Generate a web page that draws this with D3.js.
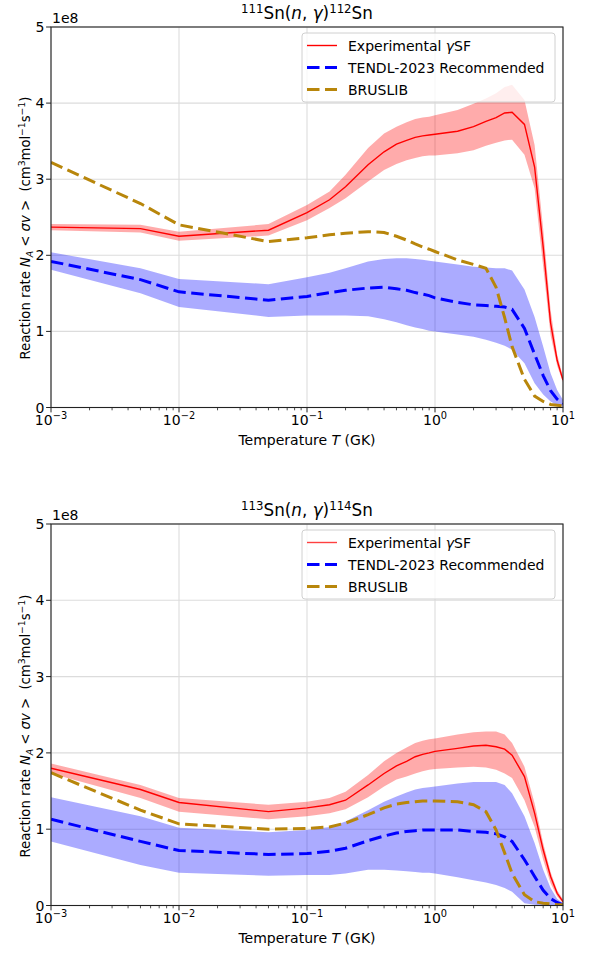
<!DOCTYPE html>
<html>
<head>
<meta charset="utf-8">
<script src="https://cdn.jsdelivr.net/npm/d3@7"></script>
<style>
  html, body { margin: 0; padding: 0; background: #fff; }
  svg { display: block; font-family: "DejaVu Sans", sans-serif; }
</style>
</head>
<body>
<svg id="chart" width="590" height="954"></svg>
<script>
// Temperature grid (GK)
const temps = [0.001, 0.005, 0.01, 0.05, 0.1, 0.15, 0.2, 0.3, 0.4, 0.5, 0.6, 0.7, 0.8, 0.9,
               1, 1.5, 2, 2.5, 3, 3.5, 4, 5, 6, 7, 8, 9, 10];

// 111Sn(n,γ)112Sn rates, units of 1e8 cm^3 mol^-1 s^-1
const exp111   = [2.37, 2.35, 2.25, 2.33, 2.56, 2.73, 2.90, 3.19, 3.36, 3.46, 3.51, 3.55, 3.57, 3.58,
                  3.59, 3.63, 3.69, 3.76, 3.81, 3.87, 3.88, 3.72, 3.16, 2.11, 1.11, 0.62, 0.36];
const exp111Lo = [2.33, 2.30, 2.19, 2.26, 2.46, 2.62, 2.75, 2.97, 3.12, 3.20, 3.25, 3.28, 3.30, 3.31,
                  3.31, 3.34, 3.38, 3.44, 3.48, 3.51, 3.52, 3.32, 2.88, 1.85, 0.95, 0.55, 0.33];
const exp111Hi = [2.41, 2.40, 2.31, 2.41, 2.66, 2.84, 3.06, 3.41, 3.60, 3.69, 3.75, 3.79, 3.81, 3.82,
                  3.84, 3.91, 3.99, 4.06, 4.13, 4.21, 4.24, 4.04, 3.45, 2.35, 1.28, 0.70, 0.40];
const tendl111   = [1.92, 1.68, 1.52, 1.41, 1.46, 1.51, 1.54, 1.57, 1.58, 1.56, 1.54, 1.51, 1.49, 1.47,
                    1.44, 1.38, 1.35, 1.34, 1.33, 1.32, 1.29, 1.04, 0.70, 0.42, 0.22, 0.11, 0.05];
const tendl111Lo = [1.81, 1.50, 1.32, 1.19, 1.21, 1.21, 1.21, 1.20, 1.16, 1.12, 1.08, 1.05, 1.03, 1.01,
                    1.00, 0.96, 0.93, 0.89, 0.85, 0.81, 0.76, 0.58, 0.32, 0.17, 0.08, 0.03, 0.01];
const tendl111Hi = [2.04, 1.83, 1.69, 1.62, 1.71, 1.77, 1.83, 1.92, 1.95, 1.96, 1.96, 1.95, 1.94, 1.93,
                    1.92, 1.88, 1.85, 1.84, 1.83, 1.83, 1.80, 1.55, 1.19, 0.80, 0.45, 0.23, 0.10];
const brus111 = [3.22, 2.68, 2.40, 2.18, 2.23, 2.27, 2.29, 2.31, 2.30, 2.25, 2.20, 2.15, 2.11, 2.08,
                 2.05, 1.94, 1.88, 1.83, 1.58, 1.18, 0.80, 0.37, 0.15, 0.08, 0.04, 0.03, 0.02];

// 113Sn(n,γ)114Sn rates, units of 1e8 cm^3 mol^-1 s^-1
const exp113   = [1.80, 1.52, 1.35, 1.23, 1.28, 1.32, 1.38, 1.58, 1.73, 1.83, 1.89, 1.95, 1.98, 2.00,
                  2.02, 2.06, 2.09, 2.10, 2.08, 2.05, 1.97, 1.69, 1.21, 0.73, 0.38, 0.16, 0.05];
const exp113Lo = [1.73, 1.41, 1.23, 1.13, 1.17, 1.21, 1.26, 1.42, 1.56, 1.65, 1.69, 1.73, 1.76, 1.78,
                  1.79, 1.81, 1.82, 1.81, 1.78, 1.73, 1.67, 1.38, 1.03, 0.60, 0.29, 0.12, 0.03];
const exp113Hi = [1.86, 1.58, 1.41, 1.32, 1.36, 1.41, 1.49, 1.71, 1.89, 2.00, 2.07, 2.13, 2.16, 2.18,
                  2.19, 2.24, 2.27, 2.28, 2.28, 2.24, 2.13, 1.82, 1.34, 0.82, 0.44, 0.20, 0.08];
const tendl113   = [1.13, 0.84, 0.72, 0.67, 0.68, 0.71, 0.75, 0.85, 0.91, 0.95, 0.97, 0.98, 0.99, 0.99,
                    0.99, 0.99, 0.97, 0.96, 0.94, 0.90, 0.84, 0.60, 0.38, 0.20, 0.09, 0.04, 0.01];
const tendl113Lo = [0.84, 0.53, 0.43, 0.39, 0.40, 0.40, 0.42, 0.47, 0.47, 0.46, 0.45, 0.44, 0.43, 0.43,
                    0.42, 0.37, 0.33, 0.30, 0.27, 0.23, 0.18, 0.03, 0.01, 0.00, 0.00, 0.00, 0.00];
const tendl113Hi = [1.42, 1.17, 1.02, 0.96, 0.99, 1.03, 1.10, 1.25, 1.36, 1.43, 1.48, 1.52, 1.54, 1.55,
                    1.56, 1.60, 1.62, 1.62, 1.62, 1.58, 1.47, 1.17, 0.82, 0.47, 0.23, 0.09, 0.03];
const brus113 = [1.74, 1.25, 1.07, 1.00, 1.01, 1.03, 1.08, 1.19, 1.28, 1.33, 1.35, 1.36, 1.37, 1.37,
                 1.37, 1.36, 1.32, 1.23, 0.99, 0.69, 0.42, 0.14, 0.05, 0.03, 0.02, 0.01, 0.01];

const yTicks = [0, 1, 2, 3, 4, 5];
const xTicks = [1e-3, 1e-2, 1e-1, 1e0, 1e1];
const xTickExps = ["\u22123", "\u22122", "\u22121", "0", "1"];
const legendLabels = ["Experimental", "TENDL-2023 Recommended", "BRUSLIB"];

const svg = d3.select("#chart");
const FS = 14;

function drawPanel(cfg) {
  const left = 51, right = 563;
  const top = cfg.top, bottom = cfg.bottom;
  const x = d3.scaleLog().domain([1e-3, 10]).range([left, right]);
  const y = d3.scaleLinear().domain([0, 5]).range([bottom, top]);
  const g = svg.append("g");

  const clipId = "clip" + cfg.id;
  g.append("clipPath").attr("id", clipId)
    .append("rect").attr("x", left).attr("y", top).attr("width", right - left).attr("height", bottom - top);

  // grid
  const grid = g.append("g").attr("stroke", "#dcdcdc").attr("stroke-width", 1.1);
  yTicks.forEach(v => grid.append("line").attr("x1", left).attr("x2", right).attr("y1", y(v)).attr("y2", y(v)));
  xTicks.forEach(v => grid.append("line").attr("x1", x(v)).attr("x2", x(v)).attr("y1", top).attr("y2", bottom));

  const data = temps.map((t, i) => ({t, e: cfg.exp[i], eLo: cfg.expLo[i], eHi: cfg.expHi[i],
    d: cfg.tendl[i], dLo: cfg.tendlLo[i], dHi: cfg.tendlHi[i], b: cfg.brus[i]}));

  const plot = g.append("g").attr("clip-path", `url(#${clipId})`);

  const area = (lo, hi) => d3.area().x(d => x(d.t)).y0(d => y(d[lo])).y1(d => y(d[hi]));
  const line = key => d3.line().x(d => x(d.t)).y(d => y(d[key]));

  plot.append("path").attr("d", area("eLo", "eHi")(data))
    .attr("fill", "#ff0000").attr("fill-opacity", 0.33).attr("stroke", "none");
  plot.append("path").attr("d", line("e")(data))
    .attr("fill", "none").attr("stroke", "#ff0000").attr("stroke-width", 1.4);
  plot.append("path").attr("d", area("dLo", "dHi")(data))
    .attr("fill", "#0000ff").attr("fill-opacity", 0.33).attr("stroke", "none");
  plot.append("path").attr("d", line("d")(data))
    .attr("fill", "none").attr("stroke", "#0000ff").attr("stroke-width", 3)
    .attr("stroke-dasharray", "12.5,5.5");
  plot.append("path").attr("d", line("b")(data))
    .attr("fill", "none").attr("stroke", "#b8860b").attr("stroke-width", 3)
    .attr("stroke-dasharray", "12.5,5.5");

  // x ticks (major + minor, outward)
  const ticks = g.append("g").attr("stroke", "#222").attr("stroke-width", 1);
  for (let p = -3; p <= 1; p++) {
    ticks.append("line").attr("x1", x(Math.pow(10, p))).attr("x2", x(Math.pow(10, p)))
      .attr("y1", bottom).attr("y2", bottom + 4.9);
    if (p < 1) {
      for (let m = 2; m <= 9; m++) {
        const v = m * Math.pow(10, p);
        ticks.append("line").attr("x1", x(v)).attr("x2", x(v))
          .attr("y1", bottom).attr("y2", bottom + 2.8).attr("stroke-width", 0.8);
      }
    }
  }
  // y ticks
  yTicks.forEach(v => ticks.append("line").attr("x1", left - 4.9).attr("x2", left)
    .attr("y1", y(v)).attr("y2", y(v)));

  // x tick labels
  xTicks.forEach((v, i) => {
    const t = g.append("text").attr("x", x(v)).attr("y", bottom + 17.5)
      .attr("text-anchor", "middle").attr("font-size", FS).attr("fill", "#000");
    t.append("tspan").text("10");
    t.append("tspan").attr("font-size", FS * 0.7).attr("dy", -6).text(xTickExps[i]);
  });
  // y tick labels
  yTicks.forEach(v => g.append("text").attr("x", left - 6.5).attr("y", y(v)).attr("dy", "0.36em")
    .attr("text-anchor", "end").attr("font-size", FS).attr("fill", "#000").text(v));

  // offset text
  g.append("text").attr("x", left + 1).attr("y", top - 4.5).attr("font-size", FS).attr("fill", "#000").text("1e8");

  // spines
  g.append("rect").attr("x", left).attr("y", top).attr("width", right - left).attr("height", bottom - top)
    .attr("fill", "none").attr("stroke", "#222").attr("stroke-width", 1.1);

  // title
  const title = g.append("text").attr("x", (left + right) / 2).attr("y", top - 8)
    .attr("text-anchor", "middle").attr("font-size", FS * 1.2).attr("fill", "#000");
  title.append("tspan").attr("font-size", FS * 0.84).attr("dy", -6).text(cfg.target);
  title.append("tspan").attr("dy", 6).text("Sn(");
  title.append("tspan").attr("font-style", "italic").text("n");
  title.append("tspan").text(", ");
  title.append("tspan").attr("font-style", "italic").text("\u03b3");
  title.append("tspan").text(")");
  title.append("tspan").attr("font-size", FS * 0.84).attr("dy", -6).text(cfg.product);
  title.append("tspan").attr("dy", 6).text("Sn");

  // x label
  const xl = g.append("text").attr("x", (left + right) / 2).attr("y", bottom + 37)
    .attr("text-anchor", "middle").attr("font-size", FS).attr("fill", "#000");
  xl.append("tspan").text("Temperature ");
  xl.append("tspan").attr("font-style", "italic").text("T");
  xl.append("tspan").text(" (GK)");

  // y label: starts near the lower end of the plot and runs upward
  const LFS = 13.2;
  const yl = g.append("text").attr("transform", `translate(30,${bottom - 48}) rotate(-90)`)
    .attr("text-anchor", "start").attr("font-size", LFS).attr("fill", "#000")
    .attr("xml:space", "preserve");
  yl.append("tspan").text("Reaction rate ");
  yl.append("tspan").attr("font-style", "italic").text("N");
  yl.append("tspan").attr("font-style", "italic").attr("font-size", LFS * 0.7).attr("dy", 3).text("A");
  yl.append("tspan").attr("dy", -3).text(" < ");
  yl.append("tspan").attr("font-style", "italic").text("\u03c3v");
  yl.append("tspan").text(" >  (cm");
  yl.append("tspan").attr("font-size", LFS * 0.7).attr("dy", -5).text("3");
  yl.append("tspan").attr("dy", 5).text("mol");
  yl.append("tspan").attr("font-size", LFS * 0.7).attr("dy", -5).text("\u22121");
  yl.append("tspan").attr("dy", 5).text("s");
  yl.append("tspan").attr("font-size", LFS * 0.7).attr("dy", -5).text("\u22121");
  yl.append("tspan").attr("dy", 5).text(")");
  // fit the label to the height of its column
  const natural = yl.node().getComputedTextLength();
  const target = 297;
  if (natural > target) {
    const nChars = yl.text().length;
    yl.attr("letter-spacing", ((target - natural) / nChars).toFixed(3));
  }

  // legend
  const lg = g.append("g");
  const lx = 302, ly = top + 6;
  lg.append("rect").attr("x", lx).attr("y", ly).attr("width", 253).attr("height", 69)
    .attr("rx", 3).attr("fill", "#fff").attr("fill-opacity", 0.8)
    .attr("stroke", "#d0d0d0").attr("stroke-width", 1);
  const styles = [
    {c: "#ff0000", w: 1.4, dash: null, op: cfg.legendRedOpacity},
    {c: "#0000ff", w: 3, dash: "12.5,5.5", op: 1},
    {c: "#b8860b", w: 3, dash: "12.5,5.5", op: 1}
  ];
  legendLabels.forEach((lab, i) => {
    const yy = ly + 12.5 + i * 22;
    const s = styles[i];
    const ln = lg.append("line").attr("x1", lx + 5).attr("x2", lx + 35).attr("y1", yy).attr("y2", yy)
      .attr("stroke", s.c).attr("stroke-width", s.w).attr("stroke-opacity", s.op);
    if (s.dash) ln.attr("stroke-dasharray", s.dash);
    const t = lg.append("text").attr("x", lx + 46).attr("y", yy + 5)
      .attr("font-size", FS).attr("fill", "#000");
    t.append("tspan").text(lab);
    if (i === 0) {
      t.append("tspan").text(" ");
      t.append("tspan").attr("font-style", "italic").text("\u03b3");
      t.append("tspan").text("SF");
    }
  });
}

drawPanel({id: 1, top: 27, bottom: 407.5, target: "111", product: "112",
  exp: exp111, expLo: exp111Lo, expHi: exp111Hi,
  tendl: tendl111, tendlLo: tendl111Lo, tendlHi: tendl111Hi, brus: brus111, legendRedOpacity: 1});
drawPanel({id: 2, top: 524, bottom: 905.5, target: "113", product: "114",
  exp: exp113, expLo: exp113Lo, expHi: exp113Hi,
  tendl: tendl113, tendlLo: tendl113Lo, tendlHi: tendl113Hi, brus: brus113, legendRedOpacity: 0.75});
</script>
</body>
</html>
